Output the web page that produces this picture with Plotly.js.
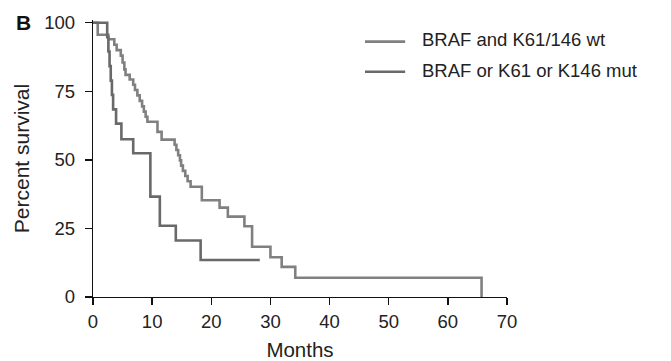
<!DOCTYPE html>
<html>
<head>
<meta charset="utf-8">
<script src="https://cdn.plot.ly/plotly-3.0.1.min.js"></script>
<style>html,body{margin:0;padding:0;background:#fff;}#chart{width:671px;height:361px;}</style>
</head>
<body>
<div id="chart"></div>
<script>
// Series names
const seriesNames = ["BRAF and K61/146 wt", "BRAF or K61 or K146 mut"];

// Kaplan-Meier step points (months, percent survival)
const wtMonths = [0, 0.8, 2.6, 3.6, 4.0, 4.7, 5.0, 5.3, 5.5, 6.2, 6.8, 7.1, 7.5, 7.9, 8.3, 8.6, 8.9, 9.2, 10.9, 11.6, 13.8, 14.1, 14.4, 14.7, 14.9, 15.2, 15.6, 16.0, 16.5, 18.4, 21.4, 22.8, 25.6, 26.9, 30.0, 31.9, 34.2, 65.7];
const wtSurvival = [100, 95.6, 94.0, 92.0, 90.0, 88.0, 85.5, 83.0, 81.0, 79.3, 77.4, 75.5, 73.5, 71.5, 69.5, 67.6, 65.7, 63.9, 60.2, 57.4, 55.5, 53.6, 51.7, 49.8, 47.9, 46.0, 44.1, 42.2, 40.2, 35.3, 32.6, 29.3, 25.8, 18.3, 14.5, 11.0, 7.0, 0];

const mutMonths = [0, 2.4, 2.6, 2.8, 3.0, 3.2, 3.4, 3.9, 4.8, 6.8, 9.7, 11.3, 14.0, 18.2, 28.2];
const mutSurvival = [100, 94.7, 89.5, 84.2, 78.9, 73.7, 68.4, 63.2, 57.5, 52.4, 36.6, 26.0, 20.6, 13.5, 13.5];

// Axis ticks
const xTicks = [0, 10, 20, 30, 40, 50, 60, 70];
const yTicks = [0, 25, 50, 75, 100];

const colors = ["#808080", "#696969"];
const FONT = "Liberation Sans, Arial, Helvetica, sans-serif";

const traces = [
  {x: wtMonths, y: wtSurvival, name: seriesNames[0], mode: "lines",
   line: {shape: "hv", color: colors[0], width: 2.6}, showlegend: false},
  {x: mutMonths, y: mutSurvival, name: seriesNames[1], mode: "lines",
   line: {shape: "hv", color: colors[1], width: 2.6}, showlegend: false}
];

// custom legend (paper coordinates)
const legendY = [0.922, 0.813];
const shapes = [];
const annotations = [];
seriesNames.forEach((n, i) => {
  shapes.push({type: "line", xref: "paper", yref: "paper",
    x0: 0.657, x1: 0.754, y0: legendY[i], y1: legendY[i],
    line: {color: colors[i], width: 2.6}});
  annotations.push({text: n, xref: "paper", yref: "paper", x: 0.79, y: legendY[i] + 0.006,
    xanchor: "left", yanchor: "middle", showarrow: false,
    font: {family: FONT, size: 18.5, color: "#222"}});
});
annotations.push({text: "<b>B</b>", xref: "paper", yref: "paper", x: -0.19, y: 0.99,
  xanchor: "left", yanchor: "middle", showarrow: false,
  font: {family: FONT, size: 21, color: "#111"}});

const layout = {
  width: 671, height: 361,
  margin: {l: 93, r: 164, t: 20, b: 64},
  paper_bgcolor: "#fff", plot_bgcolor: "#fff",
  font: {family: FONT, size: 18.5, color: "#222"},
  showlegend: false,
  xaxis: {range: [0, 70], tickvals: xTicks, ticktext: xTicks.map(String),
    showline: true, linecolor: "#111", linewidth: 1.3, ticks: "outside", ticklen: 7,
    tickwidth: 1.3, tickcolor: "#111", showgrid: false, zeroline: false,
    title: {text: "Months", font: {family: FONT, size: 20.5, color: "#222"}, standoff: 15}},
  yaxis: {range: [0, 101], tickvals: yTicks, ticktext: yTicks.map(String),
    showline: true, linecolor: "#111", linewidth: 1.3, ticks: "outside", ticklen: 7,
    tickwidth: 1.3, tickcolor: "#111", showgrid: false, zeroline: false,
    ticklabelstandoff: 6,
    title: {text: "Percent survival", font: {family: FONT, size: 21, color: "#222"}, standoff: 8}},
  shapes: shapes,
  annotations: annotations
};

Plotly.newPlot("chart", traces, layout, {displayModeBar: false, staticPlot: true});
</script>
</body>
</html>
